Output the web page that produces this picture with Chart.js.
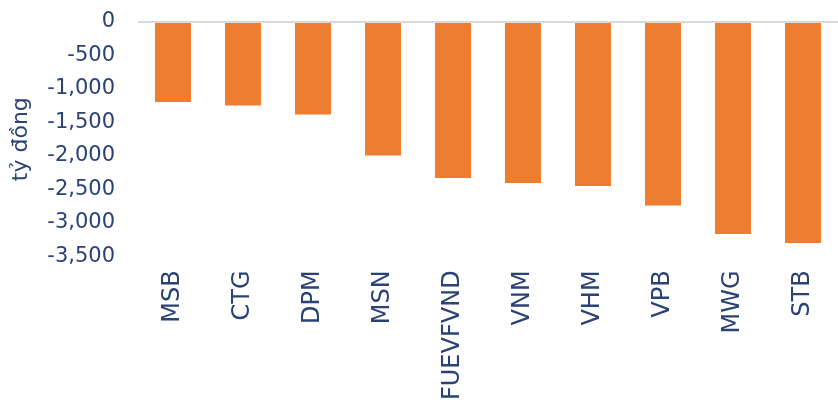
<!DOCTYPE html>
<html>
<head>
<meta charset="utf-8">
<script src="https://cdn.jsdelivr.net/npm/chart.js@4"></script>
<style>
  html, body { margin: 0; padding: 0; background: #fff; }
  #wrap { width: 838px; height: 411px; position: relative; }
</style>
</head>
<body>
<div id="wrap"><canvas id="flowChart"></canvas></div>
<script>
const tickers = ['MSB', 'CTG', 'DPM', 'MSN', 'FUEVFVND', 'VNM', 'VHM', 'VPB', 'MWG', 'STB'];
const netValues = [-1195, -1245, -1380, -1995, -2330, -2405, -2450, -2740, -3165, -3300];
const yMin = -3500;
const yMax = 0;
const yStep = 500;
const yTitle = 'tỷ đồng';

const navy = '#2B4276';
const fontFamily = '"DejaVu Sans", sans-serif';

document.addEventListener("DOMContentLoaded", function () {
    const ctx = document.getElementById('flowChart').getContext('2d');

    new Chart(ctx, {
        type: 'bar',
        data: {
            labels: tickers,
            datasets: [{
                data: netValues,
                backgroundColor: '#ED7D31',
                borderWidth: 0,
                barPercentage: 0.515,
                categoryPercentage: 1
            }]
        },
        options: {
            responsive: true,
            maintainAspectRatio: false,
            animation: false,
            layout: { padding: { top: 22, left: 6, right: 0, bottom: 5 } },
            scales: {
                x: {
                    grid: { display: false },
                    border: { display: false },
                    ticks: {
                        color: navy,
                        font: { family: fontFamily, size: 24 },
                        minRotation: 90,
                        maxRotation: 90,
                        padding: 6,
                        autoSkip: false
                    },
                    afterFit: function (scale) {
                        scale.paddingLeft = 0;
                        scale.paddingRight = 0;
                    }
                },
                y: {
                    min: yMin,
                    max: yMax,
                    grid: {
                        drawTicks: false,
                        color: c => (c.tick && c.tick.value === 0) ? '#D9D9D9' : 'rgba(0,0,0,0)',
                        lineWidth: 2
                    },
                    border: { display: false },
                    ticks: {
                        stepSize: yStep,
                        color: navy,
                        padding: 23,
                        font: { family: fontFamily, size: 21 },
                        callback: v => v.toLocaleString('en-US')
                    },
                    title: {
                        display: true,
                        text: yTitle,
                        color: navy,
                        font: { family: fontFamily, size: 22 },
                        padding: { top: 2, bottom: 2 }
                    },
                    afterFit: function (scale) {
                        scale.width = 132;
                        scale.paddingTop = 0;
                        scale.paddingBottom = 0;
                    }
                }
            },
            plugins: {
                legend: { display: false },
                tooltip: { enabled: false }
            }
        }
    });
});
</script>
</body>
</html>
